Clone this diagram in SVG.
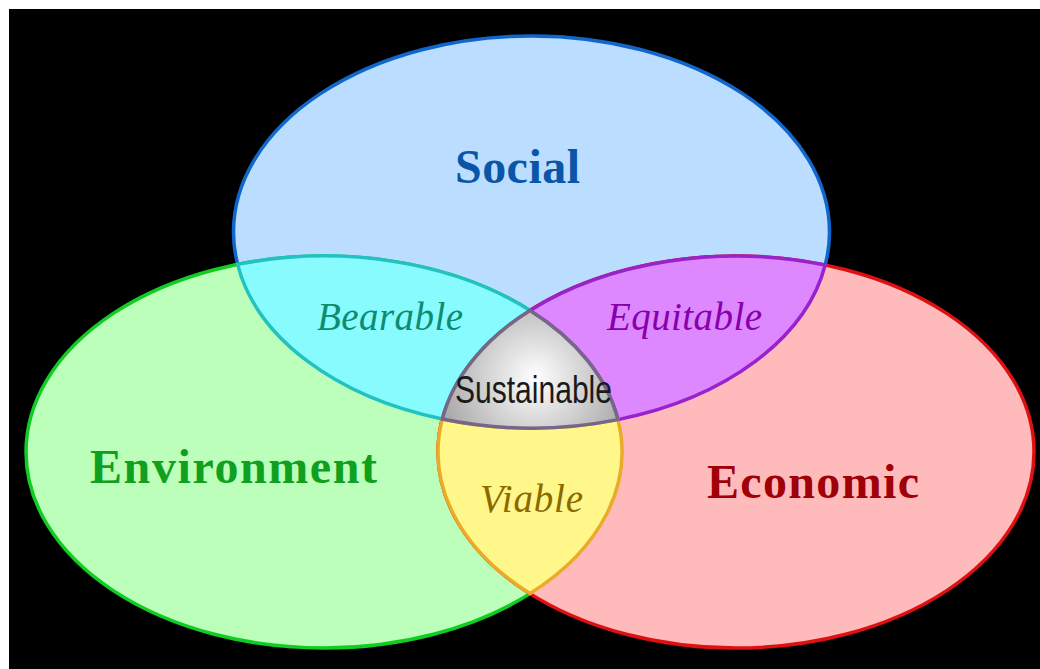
<svg xmlns="http://www.w3.org/2000/svg" width="1040" height="669" viewBox="0 0 1040 669">
  <defs>
    <radialGradient id="gSus" cx="535" cy="378" r="95" gradientUnits="userSpaceOnUse">
      <stop offset="0" stop-color="#FFFFFF"/>
      <stop offset="1" stop-color="#AAAAAA"/>
    </radialGradient>
    <style>
      .big { font-family: "Liberation Serif", "Times New Roman", serif; font-weight: bold; font-size: 48px; text-anchor: middle; }
      .mid { font-family: "Liberation Serif", "Times New Roman", serif; font-style: italic; font-size: 39px; text-anchor: middle; }
      .sus { font-family: "Liberation Sans", Arial, sans-serif; font-size: 38px; text-anchor: middle; fill: #1A1A1A; }
      .sw { stroke-width: 3.5; }
    </style>
  </defs>

  <rect x="0" y="0" width="1040" height="669" fill="#FFFFFF"/>
  <rect x="9" y="9" width="1031" height="660" fill="#000000"/>

  <g id="social">
    <ellipse cx="531.5" cy="232" rx="298" ry="196" fill="#BBDDFF" stroke="#1166CC" class="sw"/>
  </g>
  <g id="environment">
    <ellipse cx="324" cy="452" rx="298" ry="196" fill="#BBFFBB" stroke="#11CC22" class="sw"/>
  </g>
  <g id="economic">
    <ellipse cx="736" cy="452" rx="298" ry="196" fill="#FFBBBB" stroke="#DD1111" class="sw"/>
  </g>

  <g id="bearable">
    <path d="M 237.6 264.4 A 298 196 0 0 1 530 310.4 A 298 196 0 0 0 442.3 419 A 298 196 0 0 1 237.6 264.4 Z" fill="#88FBFF" stroke="#22C2C2" class="sw"/>
  </g>
  <g id="equitable">
    <path d="M 825.2 265 A 298 196 0 0 0 530 310.4 A 298 196 0 0 1 617.9 419.6 A 298 196 0 0 0 825.2 265 Z" fill="#DD88FF" stroke="#9922CC" class="sw"/>
  </g>
  <g id="viable">
    <path d="M 442.3 419 A 298 196 0 0 0 617.9 419.6 A 298 196 0 0 1 530 593.6 A 298 196 0 0 1 442.3 419 Z" fill="#FFF78A" stroke="#EBAA28" class="sw"/>
  </g>
  <g id="sustainable">
    <path d="M 530 310.4 A 298 196 0 0 0 442.3 419 A 298 196 0 0 0 617.9 419.6 A 298 196 0 0 0 530 310.4 Z" fill="url(#gSus)" stroke="#776688" class="sw"/>
  </g>

  <g id="labels">
    <text class="big" x="517.5" y="183" textLength="125" fill="#0A55A8">Social</text>
    <text class="big" x="233.5" y="483" textLength="287" fill="#10A020">Environment</text>
    <text class="big" x="813" y="498" textLength="212" fill="#A00008">Economic</text>
    <text class="mid" x="390" y="330" textLength="146" fill="#0E8C70">Bearable</text>
    <text class="mid" x="684.5" y="330" textLength="155" fill="#8800AA">Equitable</text>
    <text class="mid" x="531.5" y="512" textLength="103" fill="#8A6A00">Viable</text>
    <text class="sus" x="533.5" y="403" textLength="157" lengthAdjust="spacingAndGlyphs">Sustainable</text>
  </g>
</svg>
